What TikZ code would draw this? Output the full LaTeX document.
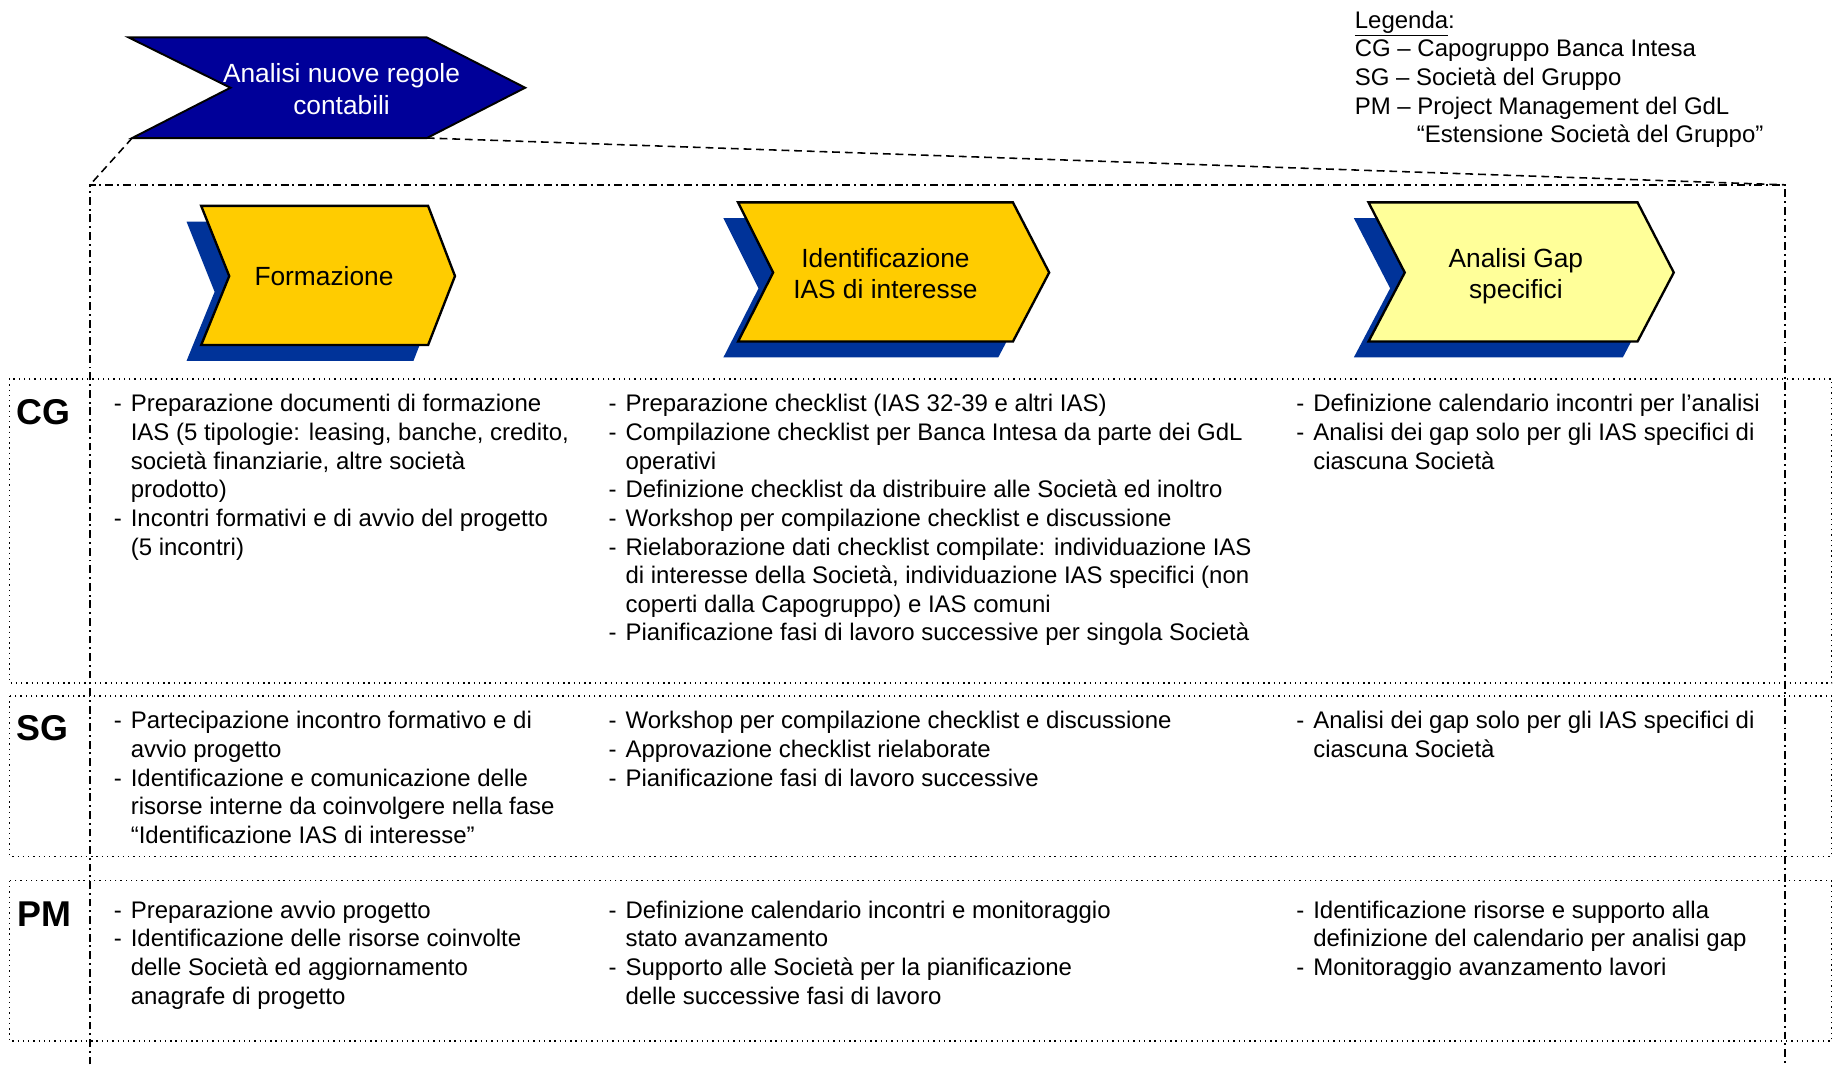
\documentclass[tikz,border=0pt]{standalone}
\usepackage{fontspec}
\setmainfont{Liberation Sans}
\definecolor{bannerblue}{HTML}{000099}
\definecolor{shadowblue}{HTML}{003399}
\definecolor{chevyellow}{HTML}{FFCC00}
\definecolor{paleyellow}{HTML}{FFFF99}
\newcommand\dsh{\makebox[8.7pt][l]{-}}
\newcommand\cnt{\hspace*{8.7pt}}
\newcommand\celltext[1]{\parbox[t]{400pt}{\fontsize{12.3}{14.7}\selectfont\raggedright #1}}
\tikzset{
  rowbox/.style={draw, dotted, line width=0.7pt},
  frameline/.style={draw, dash pattern=on 4pt off 2pt on 1pt off 2pt, line width=0.8pt},
  conn/.style={draw, dash pattern=on 4pt off 2.5pt, line width=0.8pt},
  cell/.style={anchor=base west, inner sep=0pt},
  rowlabel/.style={anchor=base west, inner sep=0pt, font=\fontsize{18.4}{22}\selectfont\bfseries},
  chevtext/.style={align=center, font=\fontsize{13.5}{16.2}\selectfont, inner sep=0pt},
  chev/.style={draw=black, line width=1.2pt, line join=miter},
  shadowfill/.style={fill=shadowblue, shift={(-12.5,13.5)}},
}
\begin{document}
\begin{tikzpicture}[x=0.6pt,y=-0.6pt]
\useasboundingbox (0,0) rectangle (1568,910);
% row boxes
\draw[rowbox] (8,324) rectangle (1566,584);
\draw[rowbox] (8,595) rectangle (1566,732);
\draw[rowbox] (8,753) rectangle (1566,890);
% banner
\coordinate (banBL) at (113,118);
\coordinate (banBR) at (365,118);
\filldraw[fill=bannerblue, draw=black, line width=1pt] (110,32) -- (365,32) -- (449,75) -- (banBR) -- (banBL) -- (197,75) -- cycle;
\node[chevtext, text=white] (banner) at (292,76) {Analisi nuove regole\\contabili};
% frame
\coordinate (frTL) at (77,158);
\coordinate (frTR) at (1526,158);
\coordinate (frBL) at (77,910);
\coordinate (frBR) at (1526,910);
\draw[frameline] (frBL) -- (frTL) -- (frTR) -- (frBR);
\draw[conn] (banBL) -- (frTL);
\draw[conn] (banBR) -- (frTR);
% chevrons
\fill[shadowfill] (172,176) -- (366,176) -- (389,236) -- (366,295) -- (172,295) -- (196,236) -- cycle;
\filldraw[chev, fill=chevyellow] (172,176) -- (366,176) -- (389,236) -- (366,295) -- (172,295) -- (196,236) -- cycle;
\node[chevtext] (formazione) at (277,236) {Formazione};
\fill[shadowfill] (631,173) -- (866,173) -- (897,233) -- (866,292) -- (631,292) -- (661,233) -- cycle;
\filldraw[chev, fill=chevyellow] (631,173) -- (866,173) -- (897,233) -- (866,292) -- (631,292) -- (661,233) -- cycle;
\node[chevtext] (identificazione) at (757,234) {Identificazione\\IAS di interesse};
\fill[shadowfill] (1170,173) -- (1400,173) -- (1431,233) -- (1400,292) -- (1170,292) -- (1201,233) -- cycle;
\filldraw[chev, fill=paleyellow] (1170,173) -- (1400,173) -- (1431,233) -- (1400,292) -- (1170,292) -- (1201,233) -- cycle;
\node[chevtext] (gap) at (1296,236) {Analisi Gap\\specifici};
% legend
\node[cell] (legenda) at (1158,24) {\celltext{\underline{Legenda}:\\CG – Capogruppo Banca Intesa\\SG – Società del Gruppo\\PM – Project Management del GdL\\\hspace*{31.8pt}“Estensione Società del Gruppo”}};
% row labels
\node[rowlabel] (cg) at (14,363) {CG};
\node[rowlabel] (sg) at (14,633) {SG};
\node[rowlabel] (pm) at (15,792) {PM};
% CG row
\node[cell] (cg1) at (97,352) {\celltext{\dsh Preparazione documenti di formazione\\\cnt IAS (5 tipologie: leasing, banche, credito,\\\cnt società finanziarie, altre società\\\cnt prodotto)\\\dsh Incontri formativi e di avvio del progetto\\\cnt (5 incontri)}};
\node[cell] (cg2) at (520,352) {\celltext{\dsh Preparazione checklist (IAS 32-39 e altri IAS)\\\dsh Compilazione checklist per Banca Intesa da parte dei GdL\\\cnt operativi\\\dsh Definizione checklist da distribuire alle Società ed inoltro\\\dsh Workshop per compilazione checklist e discussione\\\dsh Rielaborazione dati checklist compilate: individuazione IAS\\\cnt di interesse della Società, individuazione IAS specifici (non\\\cnt coperti dalla Capogruppo) e IAS comuni\\\dsh Pianificazione fasi di lavoro successive per singola Società}};
\node[cell] (cg3) at (1108,352) {\celltext{\dsh Definizione calendario incontri per l’analisi\\\dsh Analisi dei gap solo per gli IAS specifici di\\\cnt ciascuna Società}};
% SG row
\node[cell] (sg1) at (97,623) {\celltext{\dsh Partecipazione incontro formativo e di\\\cnt avvio progetto\\\dsh Identificazione e comunicazione delle\\\cnt risorse interne da coinvolgere nella fase\\\cnt “Identificazione IAS di interesse”}};
\node[cell] (sg2) at (520,623) {\celltext{\dsh Workshop per compilazione checklist e discussione\\\dsh Approvazione checklist rielaborate\\\dsh Pianificazione fasi di lavoro successive}};
\node[cell] (sg3) at (1108,623) {\celltext{\dsh Analisi dei gap solo per gli IAS specifici di\\\cnt ciascuna Società}};
% PM row
\node[cell] (pm1) at (97,785) {\celltext{\dsh Preparazione avvio progetto\\\dsh Identificazione delle risorse coinvolte\\\cnt delle Società ed aggiornamento\\\cnt anagrafe di progetto}};
\node[cell] (pm2) at (520,785) {\celltext{\dsh Definizione calendario incontri e monitoraggio\\\cnt stato avanzamento\\\dsh Supporto alle Società per la pianificazione\\\cnt delle successive fasi di lavoro}};
\node[cell] (pm3) at (1108,785) {\celltext{\dsh Identificazione risorse e supporto alla\\\cnt definizione del calendario per analisi gap\\\dsh Monitoraggio avanzamento lavori}};
\end{tikzpicture}
\end{document}
